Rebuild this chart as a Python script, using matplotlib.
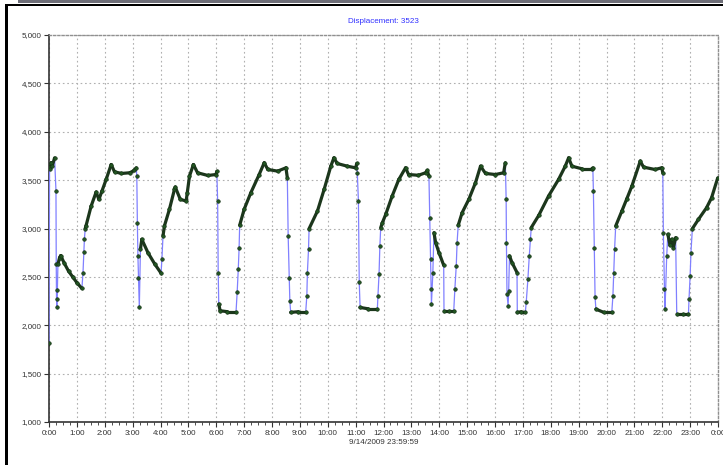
"""Displacement 3523 — 9/14/2009 daily trace."""
import matplotlib
matplotlib.use("Agg")
import matplotlib.pyplot as plt
from matplotlib.collections import LineCollection
from matplotlib.patches import Rectangle
from matplotlib.ticker import FixedLocator, MultipleLocator, FuncFormatter
import numpy as np

plt.rcParams['font.family'] = ['Liberation Sans Narrow', 'Liberation Sans', 'DejaVu Sans']

# hours since midnight, displacement
hours = [0.00, 0.02, 0.05, 0.08, 0.12, 0.20, 0.25, 0.26, 0.27, 0.28, 0.30, 0.32, 0.38, 0.42,
         0.55, 0.70, 0.85, 1.00, 1.18, 1.22, 1.25, 1.27, 1.30, 1.33, 1.51, 1.69, 1.79, 1.90,
         2.05, 2.23, 2.35, 2.60, 2.90, 3.05, 3.13, 3.15, 3.17, 3.19, 3.21, 3.24, 3.28, 3.33,
         3.55, 3.80, 4.02, 4.05, 4.09, 4.14, 4.32, 4.50, 4.53, 4.71, 4.92, 4.96, 5.04, 5.18,
         5.33, 5.70, 5.99, 6.02, 6.05, 6.07, 6.09, 6.14, 6.40, 6.71, 6.75, 6.79, 6.82, 6.84,
         7.00, 7.24, 7.54, 7.72, 7.85, 8.20, 8.50, 8.55, 8.58, 8.62, 8.64, 8.67, 8.95, 9.21,
         9.25, 9.27, 9.31, 9.33, 9.63, 9.87, 10.11, 10.22, 10.34, 10.70, 11.00, 11.04, 11.06,
         11.10, 11.13, 11.16, 11.45, 11.78, 11.80, 11.84, 11.87, 11.90, 11.96, 12.08, 12.31,
         12.55, 12.79, 12.90, 13.25, 13.51, 13.57, 13.63, 13.66, 13.69, 13.71, 13.72, 13.77,
         13.81, 13.87, 13.99, 14.16, 14.17, 14.35, 14.52, 14.56, 14.61, 14.64, 14.68, 14.82,
         15.06, 15.30, 15.48, 15.66, 16.01, 16.31, 16.37, 16.40, 16.41, 16.43, 16.47, 16.49,
         16.52, 16.61, 16.79, 16.80, 16.95, 17.09, 17.12, 17.18, 17.23, 17.27, 17.30, 17.57,
         17.92, 18.28, 18.52, 18.64, 18.76, 19.12, 19.47, 19.51, 19.53, 19.56, 19.59, 19.62,
         19.90, 20.19, 20.23, 20.26, 20.29, 20.33, 20.55, 20.73, 20.91, 21.21, 21.33, 21.74,
         21.98, 22.02, 22.04, 22.08, 22.10, 22.16, 22.20, 22.28, 22.34, 22.40, 22.48, 22.52,
         22.75, 22.94, 22.96, 23.00, 23.03, 23.08, 23.30, 23.59, 23.77, 23.99]
disp = [1820, 3640, 3620, 3680, 3650, 3730, 3390, 2630, 2270, 2184, 2360, 2630, 2700, 2720,
        2640, 2560, 2500, 2440, 2380, 2545, 2760, 2890, 3000, 3030, 3230, 3376, 3300, 3387,
        3507, 3661, 3586, 3569, 3576, 3600, 3627, 3541, 3060, 2717, 2493, 2184, 2785, 2888,
        2750, 2630, 2538, 2682, 2923, 3026, 3198, 3404, 3428, 3301, 3284, 3369, 3541, 3661,
        3576, 3548, 3558, 3590, 3284, 2545, 2218, 2150, 2140, 2140, 2339, 2579, 2802, 3033,
        3198, 3369, 3558, 3679, 3610, 3593, 3627, 3524, 2923, 2493, 2253, 2133, 2140, 2140,
        2304, 2545, 2785, 2998, 3180, 3404, 3644, 3730, 3672, 3644, 3627, 3672, 3576,
        3284, 2442, 2184, 2170, 2170, 2300, 2530, 2820, 3009, 3060, 3146, 3335,
        3507, 3627, 3558, 3550, 3576, 3600, 3541, 3112, 2682, 2373, 2218, 2545,
        2957, 2854, 2751, 2620, 2150, 2150, 2150, 2373, 2614, 2854, 3033, 3163,
        3301, 3473, 3644, 3569, 3558, 3576, 3679, 3301, 2854, 2321, 2201, 2356,
        2717, 2648, 2545, 2133, 2140, 2140, 2236, 2476, 2717, 2888, 3009, 3136,
        3335, 3507, 3644, 3730, 3644, 3617, 3617, 3627, 3387, 2802, 2287, 2167,
        2133, 2133, 2304, 2545, 2785, 3026, 3180, 3308, 3438, 3696, 3634, 3610,
        3627, 3576, 2957, 2373, 2167, 2717, 2940, 2827, 2888, 2802, 2906, 2116,
        2116, 2116, 2270, 2511, 2751, 2998, 3095, 3215, 3318, 3523]

x_ticks = list(range(25))
x_labels = [f"{h % 24}:00" for h in x_ticks]

W, H = 723, 465
fig = plt.figure(figsize=(W / 100, H / 100), dpi=100)
ax = fig.add_axes([49 / W, 1 - 422 / H, (718 - 49) / W, (422 - 35) / H])

x = np.array(hours)
y = np.array(disp)
# thin blue connecting line
ax.plot(x, y, color="#8080ff", lw=0.9, zorder=3)
# slow parts are sampled densely -> look like a thick dark line
pts = np.column_stack([x, y])
segs = np.stack([pts[:-1], pts[1:]], axis=1)
slope = np.abs(np.diff(y) / np.diff(x))
slow = segs[slope < 3000]
ax.add_collection(LineCollection(slow, colors="#1c361c", linewidths=2.3, zorder=4,
                                 capstyle="round"))
ax.plot(x, y, ls="none", marker="o", ms=2.6, mfc="#225522", mec="#143014", mew=0.4, zorder=5)

ax.set_xlim(0, 24)
ax.set_ylim(1000, 5000)
ax.xaxis.set_major_locator(FixedLocator(x_ticks))
ax.set_xticklabels(x_labels)
ax.xaxis.set_minor_locator(MultipleLocator(0.25))
ax.yaxis.set_major_locator(MultipleLocator(500))
ax.yaxis.set_major_formatter(FuncFormatter(lambda v, p: f"{v:,.0f}"))
ax.tick_params(axis="both", which="major", labelsize=5.8, labelcolor="#333333",
               length=3.5, width=0.8, color="#333333", pad=2)
ax.tick_params(axis="x", which="minor", length=2, width=0.6, color="#333333")
ax.grid(True, which="major", ls=(0, (1.5, 2.5)), color="#b0b0b0", lw=0.8)
for s in ("left", "bottom"):
    ax.spines[s].set_color("#333333")
    ax.spines[s].set_linewidth(1.2)
for s in ("top", "right"):
    ax.spines[s].set_color("#909090")
    ax.spines[s].set_linestyle((0, (1.5, 1.5)))
    ax.spines[s].set_linewidth(1.0)

ax.set_title("Displacement: 3523", fontsize=5.8, color="#3030ff", pad=9)
ax.set_xlabel("9/14/2009 23:59:59", fontsize=5.8, color="#333333", labelpad=2)

# window frame around the chart
def px_rect(x0, y0, x1, y1, color):
    fig.add_artist(Rectangle((x0 / W, 1 - y1 / H), (x1 - x0) / W, (y1 - y0) / H,
                             transform=fig.transFigure, color=color, lw=0))

px_rect(18, 0, W, 3.5, "#6e6e78")
px_rect(5, 4, W, 6.5, "#000000")
px_rect(5, 4, 7.5, H, "#000000")

fig.savefig("out.png", dpi=100)
